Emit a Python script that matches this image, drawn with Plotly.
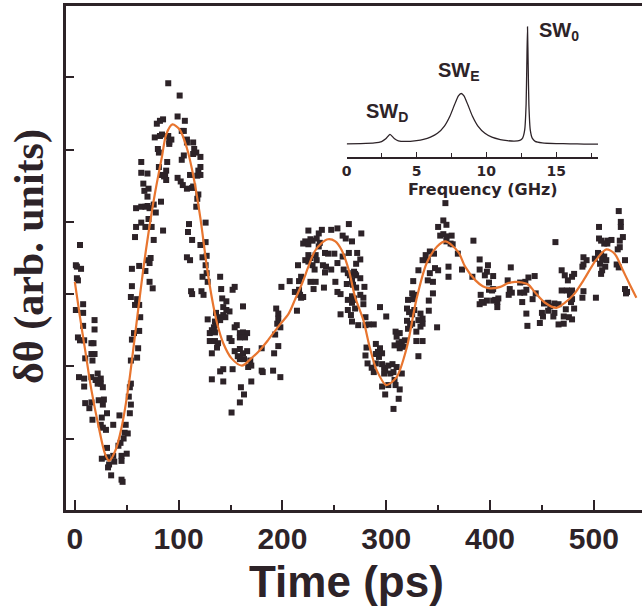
import plotly.graph_objects as go

# ---------------- data ----------------
# measured points: time (ps) and signal (arb. units), grouped by time window
t_early = [5, 1, 2, 6, 2, 3, 1, 8, 8, 8,
           3, 5, 9, 19, 19, 16, 18, 16, 19, 10,
           17, 4, 9, 16, 20, 22, 25, 9, 22, 25,
           27, 10, 16, 14, 23, 28, 27, 17, 31, 26,
           25, 27, 30, 37, 43, 49, 48, 51, 47, 44,
           42, 31, 26, 31, 37, 38, 33, 32, 45, 45,
           50, 35, 45, 46, 53, 54, 52, 54, 53, 60,
           54, 55, 57, 62, 61, 63, 62, 58, 60, 54,
           55, 55, 62, 68, 70, 72, 73, 75, 72, 58,
           59, 59, 64, 68, 74, 64, 68, 70, 67, 66,
           71, 70, 72, 76, 78, 76, 71, 64, 70, 64,
           81, 84, 83, 85, 80, 81, 77, 79, 82, 82,
           90, 101]
y_early = [0.68, 0.40, 0.38, 0.35, 0.22, 0.19, -0.22, -0.14, -0.26, -0.44,
           -0.60, -0.64, -0.64, -0.36, -0.49, -0.68, -0.68, -0.83, -0.83, -0.89,
           -0.92, -1.15, -1.17, -1.15, -1.19, -1.10, -1.17, -1.28, -1.24, -1.24,
           -1.29, -1.51, -1.50, -1.58, -1.47, -1.46, -1.53, -1.74, -1.65, -1.71,
           -1.81, -1.85, -1.88, -1.81, -1.68, -1.81, -1.92, -1.93, -2.00, -2.06,
           -2.10, -2.13, -2.28, -2.26, -2.24, -2.32, -2.36, -2.40, -2.24, -2.31,
           -2.21, -2.51, -2.57, -2.60, -1.65, -1.53, -1.42, -1.24, -1.29, -0.88,
           -0.92, -0.63, -0.54, -0.51, -0.75, -0.32, -0.15, -0.15, -0.07, -0.04,
           0.11, 0.35, 0.39, 0.32, 0.47, 0.43, 0.50, 0.08, 0.17, 0.79,
           0.93, 1.19, 0.99, 0.93, 0.93, 1.21, 1.21, 1.35, 1.43, 1.53,
           1.46, 1.22, 1.19, 1.24, 1.13, 0.75, 1.04, 1.68, 1.67, 1.83,
           1.76, 1.65, 1.28, 0.88, 2.01, 1.96, 2.17, 2.36, 2.19, 2.40,
           2.92, 2.75]

t_peak = [85, 99, 106, 105, 103, 84, 90, 91, 93, 91,
          108, 108, 114, 115, 117, 114, 105, 103, 121, 89,
          88, 121, 119, 121, 118, 87, 88, 86, 111, 99,
          102, 104, 108, 113, 114, 119, 118, 117, 110, 109,
          126, 113, 121, 126, 108, 111, 123, 127, 126, 127,
          123, 128, 140, 112, 113, 122, 124, 141, 152, 154,
          142, 146, 162, 143, 146, 149, 136, 143, 139, 145,
          128, 135, 140, 132, 134, 136, 130, 135, 156, 154,
          159, 162, 166, 164, 159, 149, 151, 130, 135, 138,
          137, 132, 154, 159, 162, 166, 169, 157, 159, 163,
          167, 170, 140, 143, 152, 132, 143, 170, 160, 163,
          159, 151]
y_peak = [2.42, 2.46, 2.40, 2.26, 2.26, 2.21, 2.19, 2.11, 2.14, 2.08,
          2.14, 2.10, 2.10, 2.01, 1.96, 1.94, 1.92, 1.86, 1.90, 1.83,
          1.71, 1.76, 1.71, 1.65, 1.64, 1.65, 1.58, 1.63, 1.65, 1.61,
          1.56, 1.51, 1.46, 1.47, 1.49, 1.38, 1.32, 1.21, 0.97, 0.86,
          0.99, 0.75, 0.68, 0.72, 0.51, 0.47, 0.51, 0.53, 0.40, 0.29,
          0.24, 0.17, 0.24, 0.04, 0.00, 0.04, -0.01, 0.07, 0.06, 0.10,
          -0.06, -0.10, -0.17, -0.18, -0.22, -0.24, -0.26, -0.29, -0.32, -0.32,
          -0.35, -0.38, -0.36, -0.50, -0.46, -0.43, -0.54, -0.53, -0.43, -0.46,
          -0.54, -0.53, -0.54, -0.60, -0.60, -0.61, -0.65, -0.65, -0.65, -0.68,
          -0.74, -0.82, -0.79, -0.76, -0.82, -0.79, -0.92, -0.86, -0.90, -0.90,
          -1.01, -0.99, -1.07, -1.04, -1.04, -1.18, -1.21, -1.21, -1.29, -1.39,
          -1.50, -1.64]

t_mid = [264, 225, 235, 238, 247, 253, 220, 222, 225, 227,
         229, 233, 258, 261, 235, 236, 264, 215, 222, 225,
         225, 227, 232, 229, 231, 233, 241, 244, 250, 239,
         242, 241, 247, 253, 258, 259, 263, 265, 207, 216,
         218, 227, 232, 230, 240, 251, 262, 267, 199, 212,
         216, 217, 218, 220, 253, 256, 263, 267, 269, 194,
         196, 196, 214, 195, 198, 193, 256, 263, 266, 267,
         196, 192, 180, 180, 181, 191, 198]
y_mid = [0.97, 0.88, 0.84, 0.89, 0.89, 0.91, 0.70, 0.73, 0.69, 0.76,
         0.74, 0.77, 0.81, 0.77, 0.66, 0.71, 0.57, 0.40, 0.47, 0.54,
         0.45, 0.50, 0.54, 0.40, 0.34, 0.47, 0.57, 0.56, 0.56, 0.40,
         0.38, 0.30, 0.34, 0.43, 0.52, 0.34, 0.29, 0.26, 0.18, 0.18,
         0.24, 0.17, 0.17, 0.07, 0.09, 0.17, 0.14, 0.17, 0.10, 0.03,
         0.06, -0.01, -0.05, -0.04, 0.03, 0.00, -0.08, -0.12, -0.06, -0.20,
         -0.27, -0.34, -0.23, -0.41, -0.46, -0.56, -0.28, -0.22, -0.29, -0.38,
         -0.72, -0.82, -0.75, -1.06, -1.08, -1.06, -1.15]

t_late = [357, 350, 355, 358, 276, 352, 355, 358, 267, 272,
          275, 271, 342, 346, 338, 340, 335, 269, 270, 271,
          267, 275, 331, 347, 350, 342, 340, 360, 360, 268,
          271, 279, 326, 345, 275, 278, 267, 268, 325, 327,
          326, 345, 341, 278, 294, 321, 270, 320, 322, 325,
          327, 280, 300, 341, 333, 335, 331, 273, 280, 283,
          288, 320, 323, 321, 325, 333, 335, 349, 309, 313,
          329, 310, 308, 312, 315, 317, 313, 318, 329, 335,
          290, 294, 292, 296, 290, 293, 281, 280, 331, 282,
          286, 288, 290, 296, 298, 299, 302, 306, 298, 304,
          307, 310, 315, 308, 309, 302, 296, 313, 299, 312,
          307]
y_late = [1.26, 0.93, 1.02, 0.96, 0.84, 0.81, 0.83, 0.80, 0.73, 0.57,
          0.48, 0.42, 0.59, 0.56, 0.54, 0.47, 0.47, 0.31, 0.28, 0.26,
          0.19, 0.22, 0.33, 0.36, 0.33, 0.29, 0.19, 0.38, 0.24, 0.13,
          0.09, 0.10, 0.18, 0.17, -0.01, -0.05, -0.03, -0.08, 0.01, -0.01,
          -0.07, 0.01, -0.09, -0.14, -0.18, -0.08, -0.20, -0.20, -0.25, -0.28,
          -0.22, -0.32, -0.31, -0.23, -0.27, -0.34, -0.36, -0.43, -0.43, -0.42,
          -0.42, -0.37, -0.43, -0.48, -0.41, -0.45, -0.41, -0.46, -0.52, -0.54,
          -0.52, -0.59, -0.71, -0.68, -0.66, -0.73, -0.75, -0.64, -0.65, -0.65,
          -0.69, -0.75, -0.80, -0.82, -0.83, -0.87, -0.74, -0.85, -0.86, -0.96,
          -1.02, -1.08, -0.96, -0.97, -1.02, -1.06, -0.99, -0.97, -1.10, -1.10,
          -1.08, -1.01, -1.10, -1.19, -1.26, -1.26, -1.28, -1.32, -1.39, -1.45,
          -1.59]

t_tail = [363, 358, 362, 364, 384, 369, 390, 373, 390, 398,
          397, 395, 403, 383, 420, 399, 399, 402, 403, 417,
          419, 421, 418, 429, 434, 437, 443, 435, 429, 433,
          444, 441, 391, 390, 394, 397, 392, 403, 405, 408,
          407, 407, 431, 435, 436, 448, 452]
y_tail = [0.81, 0.73, 0.70, 0.69, 0.74, 0.56, 0.48, 0.34, 0.34, 0.40,
          0.31, 0.26, 0.25, 0.24, 0.37, 0.16, 0.06, 0.05, 0.07, 0.19,
          0.07, 0.02, -0.01, 0.16, 0.17, 0.23, 0.25, 0.06, 0.02, 0.02,
          0.01, -0.07, -0.01, -0.14, -0.12, -0.09, -0.11, -0.09, -0.08, -0.06,
          -0.11, -0.18, -0.11, -0.27, -0.44, -0.40, -0.13]

t_end = [524, 526, 526, 528, 525, 505, 463, 505, 507, 513,
         517, 513, 510, 525, 523, 504, 507, 510, 508, 512,
         506, 511, 508, 501, 490, 493, 490, 489, 530, 522,
         524, 507, 469, 472, 475, 479, 481, 469, 474, 479,
         477, 490, 489, 502, 530, 532, 531, 479, 478, 456,
         458, 462, 466, 456, 462, 461, 450, 451, 481, 473,
         471, 476, 479, 466, 471]
y_end = [1.15, 1.00, 0.93, 0.79, 0.74, 0.93, 0.72, 0.77, 0.74, 0.74,
         0.75, 0.70, 0.70, 0.65, 0.62, 0.57, 0.55, 0.52, 0.48, 0.47,
         0.42, 0.38, 0.33, 0.49, 0.51, 0.47, 0.41, 0.38, 0.47, 0.41,
         0.37, 0.28, 0.33, 0.26, 0.19, 0.24, 0.28, 0.05, 0.05, 0.05,
         -0.01, 0.04, -0.05, -0.05, 0.07, 0.03, 0.01, -0.07, -0.11, -0.12,
         -0.17, -0.13, -0.14, -0.23, -0.26, -0.31, -0.26, -0.31, -0.20, -0.21,
         -0.31, -0.32, -0.35, -0.42, -0.41]

# fitted curve (orange)
fit_time_ps = [0, 5, 10, 16, 23, 29, 33, 39, 45, 52,
               56, 61, 66, 71, 77, 84, 88, 94, 101, 108,
               114, 121, 127, 132, 137, 143, 151, 161, 170, 178,
               186, 196, 206, 212, 219, 225, 231, 238, 244, 251,
               257, 264, 270, 278, 284, 291, 300, 310, 320, 329,
               339, 349, 357, 363, 370, 376, 386, 393, 400, 410,
               417, 424, 431, 437, 443, 453, 464, 472, 481, 490,
               502, 512, 520, 528, 534, 541]
fit_signal = [0.17, -0.32, -0.78, -1.33, -1.84, -2.21, -2.31, -2.17, -1.85, -1.25,
              -0.80, -0.22, 0.35, 0.85, 1.38, 1.91, 2.21, 2.35, 2.28, 2.02,
              1.65, 1.05, 0.40, -0.05, -0.40, -0.68, -0.89, -0.99, -0.89, -0.78,
              -0.64, -0.45, -0.27, -0.08, 0.15, 0.38, 0.59, 0.71, 0.76, 0.73,
              0.61, 0.33, -0.04, -0.36, -0.73, -1.06, -1.26, -1.15, -0.73, -0.08,
              0.43, 0.66, 0.73, 0.68, 0.57, 0.38, 0.19, 0.11, 0.08, 0.10,
              0.15, 0.17, 0.16, 0.13, 0.03, -0.12, -0.19, -0.12, 0.00, 0.19,
              0.47, 0.62, 0.56, 0.33, 0.15, -0.05]

# inset spectrum
freq_ghz = [0, 1, 2, 2.5, 2.8, 3.1, 3.4, 3.7, 4.2, 5,
            5.5, 6, 6.5, 7, 7.4, 7.7, 8.0, 8.2, 8.4, 8.7,
            9.0, 9.4, 9.9, 10.4, 11, 11.5, 12, 12.4, 12.6, 12.75,
            12.85, 12.9, 12.95, 13.0, 13.05, 13.15, 13.3, 13.5, 14, 15,
            16, 17, 18]
spectrum = [0.006, 0.008, 0.013, 0.024, 0.046, 0.082, 0.049, 0.030, 0.025, 0.032,
            0.042, 0.060, 0.090, 0.148, 0.229, 0.313, 0.391, 0.410, 0.391, 0.313,
            0.229, 0.148, 0.090, 0.059, 0.040, 0.031, 0.027, 0.033, 0.052, 0.117,
            0.321, 0.631, 0.945, 0.630, 0.320, 0.116, 0.049, 0.026, 0.014, 0.008,
            0.006, 0.004, 0.004]

x_tick_vals = [0, 100, 200, 300, 400, 500]
x_tick_text = ["0", "100", "200", "300", "400", "500"]
x_minor_vals = [50, 150, 250, 350, 450]
y_tick_vals = [-2, -1, 0, 1, 2, 3]
inset_tick_vals = [0, 5, 10, 15]
inset_minor_vals = [2.5, 7.5, 12.5, 17.5]

time_ps = t_early + t_peak + t_mid + t_late + t_tail + t_end
signal = y_early + y_peak + y_mid + y_late + y_tail + y_end

# ---------------- figure ----------------
ink = "#2d2328"
orange = "#e8752f"

fig = go.Figure()
fig.add_trace(go.Scatter(
    x=time_ps, y=signal, mode="markers",
    marker=dict(symbol="square", size=6, color=ink, line=dict(width=0)),
    hoverinfo="skip"))
fig.add_trace(go.Scatter(
    x=fit_time_ps, y=fit_signal, mode="lines",
    line=dict(color=orange, width=2.2, shape="spline", smoothing=0.8)))
fig.add_trace(go.Scatter(
    x=freq_ghz, y=spectrum, xaxis="x2", yaxis="y2", mode="lines",
    line=dict(color=ink, width=1.3, shape="spline", smoothing=0.5)))

W, H = 642, 612
L, R, T, B = 66, 0, 6, 102
PW, PH = W - L - R, H - T - B


def px(x):
    return (x - L) / PW


def py(y):
    return (H - B - y) / PH


fig.update_layout(
    width=W, height=H,
    margin=dict(l=L, r=R, t=T, b=B, pad=0),
    paper_bgcolor="white", plot_bgcolor="white",
    showlegend=False,
    xaxis=dict(
        range=[-8.5, 546.4], showline=True, linewidth=3, linecolor=ink, mirror=True,
        ticks="inside", ticklen=10, tickwidth=2, tickcolor=ink,
        tickmode="array", tickvals=x_tick_vals, ticktext=x_tick_text,
        tickfont=dict(family="Liberation Sans", size=30, color=ink, weight="bold"),
        minor=dict(tickmode="array", tickvals=x_minor_vals, ticks="inside",
                   ticklen=5, tickwidth=2, tickcolor=ink, showgrid=False),
        showgrid=False, zeroline=False),
    yaxis=dict(
        range=[-2.99, 3.99], showline=True, linewidth=3, linecolor=ink,
        ticks="inside", ticklen=8, tickwidth=2, tickcolor=ink,
        tickmode="array", tickvals=y_tick_vals, showticklabels=False,
        showgrid=False, zeroline=False),
    xaxis2=dict(
        domain=[px(346.7), px(598)], anchor="y2", range=[0, 18],
        showline=True, linewidth=1.5, linecolor=ink,
        ticks="inside", ticklen=5, tickwidth=1.3, tickcolor=ink,
        tickmode="array", tickvals=inset_tick_vals,
        tickfont=dict(family="DejaVu Sans", size=14, color=ink, weight="bold"),
        minor=dict(tickmode="array", tickvals=inset_minor_vals, ticks="inside",
                   ticklen=4, tickwidth=1.2, tickcolor=ink, showgrid=False),
        showgrid=False, zeroline=False),
    yaxis2=dict(domain=[py(157), py(20)], anchor="x2", range=[-0.1, 1.0], visible=False),
)

annotations = [
    dict(text="δθ (arb. units)", x=px(29), y=py(257), textangle=-90,
         font=dict(family="Liberation Serif", size=42, color=ink, weight="bold")),
    dict(text="Time (ps)", x=px(346), y=py(581),
         font=dict(family="Liberation Sans", size=44, color=ink, weight="bold")),
    dict(text="Frequency (GHz)", x=px(483), y=py(189),
         font=dict(family="DejaVu Sans", size=16, color=ink, weight="bold")),
    dict(text="SW<sub>D</sub>", x=px(364), y=py(112), xanchor="left",
         font=dict(family="Liberation Sans", size=20, color=ink, weight="bold")),
    dict(text="SW<sub>E</sub>", x=px(436), y=py(72), xanchor="left",
         font=dict(family="Liberation Sans", size=20, color=ink, weight="bold")),
    dict(text="SW<sub>0</sub>", x=px(537), y=py(31), xanchor="left",
         font=dict(family="Liberation Sans", size=20, color=ink, weight="bold")),
]
for a in annotations:
    a.setdefault("xanchor", "center")
    a.update(xref="paper", yref="paper", yanchor="middle", showarrow=False)
fig.update_layout(annotations=annotations)

# the page's default 8px body margin would shift the figure; remove it
fig.write_html("out.html",
               config={"displayModeBar": False},
               post_script="document.body.style.margin='0';"
                           "document.body.style.overflow='hidden';")
